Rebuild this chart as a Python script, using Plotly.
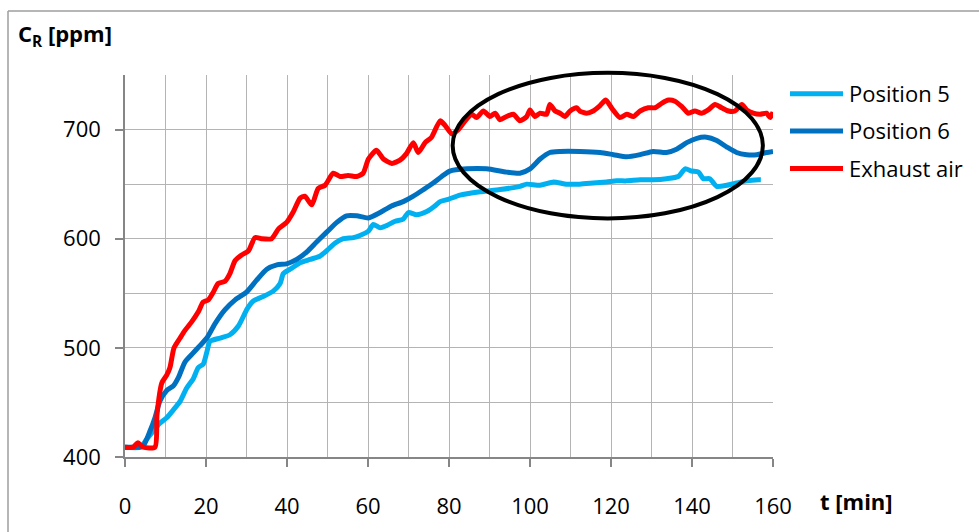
import plotly.graph_objects as go

# ---- measured series: time [min] and CO2 concentration C_R [ppm] ----
t_pos5 = [0, 3.8, 5.3, 7.0, 8.6, 10.3, 11.9, 13.6, 15.2, 16.9, 18.1, 19.3, 20.2, 21.0,
          23.5, 25.9, 28.0, 30.2, 31.7, 34.1, 36.6, 38.3, 39.1, 41.2, 43.2, 45.7, 48.1,
          49.8, 51.9, 53.9, 56.4, 58.0, 60.1, 61.3, 63.0, 64.6, 66.7, 68.7, 70.0, 72.0,
          74.5, 76.5, 77.8, 79.8, 82.7, 87.7, 92.6, 97.5, 99.2, 102.5, 105.8, 109.0,
          112.3, 115.6, 118.9, 121.4, 123.9, 127.2, 130.4, 133.7, 136.6, 138.3, 139.9,
          141.6, 142.8, 144.4, 146.1, 148.6, 151.0, 153.5, 156.4, 157.0]
c_pos5 = [409, 409, 416, 424, 431, 436, 443, 451, 463, 472, 482, 485, 496, 506,
          509, 512, 520, 536, 543, 547, 552, 559, 568, 573, 578, 581, 584,
          589, 596, 600, 601, 603, 607, 613, 610, 612, 616, 618, 624, 622,
          625, 630, 634, 636, 640, 643, 645, 648, 650, 649, 652, 650,
          650, 651, 652, 653, 653, 654, 654, 655, 657, 664, 662,
          661, 655, 655, 648, 649, 651, 653, 654, 654]

t_pos6 = [0, 3.5, 4.5, 6.2, 7.4, 8.6, 10.3, 11.9, 13.2, 14.8, 16.5, 18.5, 20.2, 22.2,
          24.7, 27.2, 30.0, 32.5, 35.0, 37.5, 39.9, 42.4, 44.9, 47.3, 49.8, 52.3, 54.7,
          57.2, 60.1, 63.0, 65.8, 68.7, 71.2, 73.7, 76.1, 78.2, 80.2, 84.4, 89.3, 94.2,
          97.5, 100.0, 102.5, 104.9, 107.4, 112.3, 117.3, 120.6, 123.9, 127.2, 130.4,
          133.7, 136.2, 138.7, 141.2, 143.6, 146.1, 148.6, 151.0, 153.5, 156.0, 158.4, 160.0]
c_pos6 = [409, 409, 410, 424, 436, 451, 461, 465, 473, 487, 494, 502, 509, 522,
          535, 544, 551, 562, 572, 576, 577, 581, 588, 597, 606, 615, 621,
          621, 619, 624, 630, 634, 639, 645, 651, 657, 662, 664, 664, 661,
          660, 664, 673, 679, 680, 680, 679, 677, 675, 677, 680,
          679, 682, 688, 692, 693, 690, 684, 679, 677, 677, 679, 680]

t_exh = [0, 2.0, 3.2, 4.5, 7.4, 7.9, 9.1, 10.3, 11.1, 12.1, 13.6, 14.8, 16.5, 18.1, 19.3,
         20.6, 21.8, 23.0, 24.7, 25.9, 27.2, 28.8, 30.5, 32.1, 33.7, 36.2, 37.9, 39.9,
         41.6, 43.2, 44.4, 46.1, 47.7, 49.4, 51.4, 53.1, 55.1, 57.2, 58.8, 60.1, 62.1,
         63.8, 65.9, 67.9, 69.5, 71.2, 72.4, 74.1, 75.7, 77.8, 79.0, 80.7, 82.3, 84.0,
         85.6, 86.8, 88.5, 90.1, 91.4, 92.6, 94.2, 95.9, 97.5, 99.2, 100.0, 101.2, 102.5,
         104.1, 104.9, 106.2, 107.4, 108.6, 109.9, 111.5, 112.3, 114.0, 115.6, 117.3,
         118.7, 120.3, 122.2, 123.9, 125.5, 127.2, 129.2, 130.9, 132.5, 134.2, 135.8,
         137.5, 139.1, 140.7, 142.4, 144.0, 145.7, 147.3, 149.0, 150.6, 152.3, 153.5,
         155.1, 156.8, 158.4, 159.3, 160.0]
c_exh = [409, 409, 413, 409, 409, 439, 468, 475, 482, 500, 509, 516, 524, 533, 542,
         544, 551, 559, 561, 568, 580, 585, 589, 601, 600, 600, 609, 615,
         625, 637, 639, 631, 646, 649, 660, 657, 658, 657, 660, 673, 681,
         673, 669, 672, 678, 688, 679, 688, 693, 708, 704, 696, 700, 708,
         714, 711, 717, 712, 715, 709, 712, 714, 708, 712, 718, 712, 715,
         714, 723, 717, 715, 712, 717, 720, 717, 715, 717, 722,
         727, 719, 711, 714, 712, 717, 720, 720, 724, 727, 726,
         721, 715, 717, 715, 718, 723, 720, 717, 717, 723, 718,
         715, 714, 715, 711, 716]

series_names = ["Position 5", "Position 6", "Exhaust air"]
series_colors = ["#00B0F0", "#0070C0", "#FF0000"]

x_ticks = [0, 20, 40, 60, 80, 100, 120, 140, 160]
y_ticks = [400, 500, 600, 700]

# highlighted steady-state region (t [min], C_R [ppm])
ring_t = [80.9, 157.5]
ring_c = [618.6, 752.0]

# ---- page geometry ----
W, H = 979, 532
L, R, T, B = 125, 206, 75, 69
PW, PH = W - L - R, H - T - B
X_RANGE = [0, 160]
Y_RANGE = [400, 750]

FONT = "Open Sans"
FS = 22
GRID = "#B4B4B4"
AXIS = "#868686"


def px_x(px):
    return (px - L) / PW


def px_y(py):
    return (H - B - py) / PH


def data_x(t):
    return (t - X_RANGE[0]) / (X_RANGE[1] - X_RANGE[0])


def data_y(c):
    return (c - Y_RANGE[0]) / (Y_RANGE[1] - Y_RANGE[0])


fig = go.Figure()
for name, color, tx, cy in zip(series_names, series_colors,
                               [t_pos5, t_pos6, t_exh], [c_pos5, c_pos6, c_exh]):
    fig.add_trace(go.Scatter(
        x=tx, y=cy, name=name, mode="lines",
        line=dict(color=color, width=5, shape="spline", smoothing=0.6),
        showlegend=False, cliponaxis=True,
    ))

shapes = []
annotations = []

# outer chart frame (left and top edges visible)
shapes.append(dict(type="line", xref="paper", yref="paper",
                   x0=px_x(8), x1=px_x(8), y0=px_y(10), y1=px_y(545),
                   line=dict(color="#9E9E9E", width=1.5)))
shapes.append(dict(type="line", xref="paper", yref="paper",
                   x0=px_x(8), x1=px_x(990), y0=px_y(10), y1=px_y(10),
                   line=dict(color="#9E9E9E", width=1.5)))

# ellipse around the plateau
shapes.append(dict(type="circle", xref="paper", yref="paper",
                   x0=data_x(ring_t[0]), x1=data_x(ring_t[1]),
                   y0=data_y(ring_c[0]), y1=data_y(ring_c[1]),
                   line=dict(color="black", width=4)))

# legend: colored line sample + label
legend_rows = [94, 132, 170]
for name, color, py in zip(series_names, series_colors, legend_rows):
    shapes.append(dict(type="line", xref="paper", yref="paper",
                       x0=px_x(790), x1=px_x(843), y0=px_y(py), y1=px_y(py),
                       line=dict(color=color, width=5)))
    annotations.append(dict(xref="paper", yref="paper", x=px_x(847), y=px_y(py - 1),
                            text=name, showarrow=False, xanchor="left",
                            yanchor="middle",
                            font=dict(family=FONT, size=FS, color="black")))

# axis titles
annotations.append(dict(xref="paper", yref="paper", x=px_x(16), y=px_y(34),
                        text="<b>C<sub>R</sub> [ppm]</b>", showarrow=False,
                        xanchor="left", yanchor="middle",
                        font=dict(family=FONT, size=FS, color="black")))
annotations.append(dict(xref="paper", yref="paper", x=px_x(818), y=px_y(508),
                        text="<b>t [min]</b>", showarrow=False,
                        xanchor="left", yanchor="middle",
                        font=dict(family=FONT, size=FS, color="black")))

fig.update_layout(
    width=W, height=H,
    margin=dict(l=L, r=R, t=T, b=B, pad=0),
    paper_bgcolor="white", plot_bgcolor="white",
    font=dict(family=FONT, size=FS, color="black"),
    showlegend=False,
    shapes=shapes,
    annotations=annotations,
)

fig.update_xaxes(
    range=X_RANGE, tickvals=x_ticks, ticktext=[str(v) for v in x_ticks],
    showgrid=True, gridcolor=GRID, gridwidth=1.4,
    minor=dict(dtick=10, tick0=0, showgrid=True, gridcolor=GRID, gridwidth=1.4),
    showline=True, linecolor=AXIS, linewidth=1.6,
    ticks="outside", ticklen=8, tickcolor=AXIS, tickwidth=1.6,
    ticklabelstandoff=21, zeroline=False,
    tickfont=dict(family=FONT, size=FS, color="black"),
)
fig.update_yaxes(
    range=Y_RANGE, tickvals=y_ticks, ticktext=[str(v) for v in y_ticks],
    showgrid=True, gridcolor=GRID, gridwidth=1.4,
    minor=dict(dtick=50, tick0=400, showgrid=True, gridcolor=GRID, gridwidth=1.4),
    showline=True, linecolor=AXIS, linewidth=1.6,
    ticks="outside", ticklen=8, tickcolor=AXIS, tickwidth=1.6,
    ticklabelstandoff=10, zeroline=False,
    tickfont=dict(family=FONT, size=FS, color="black"),
)

fig.write_html("out.html")
